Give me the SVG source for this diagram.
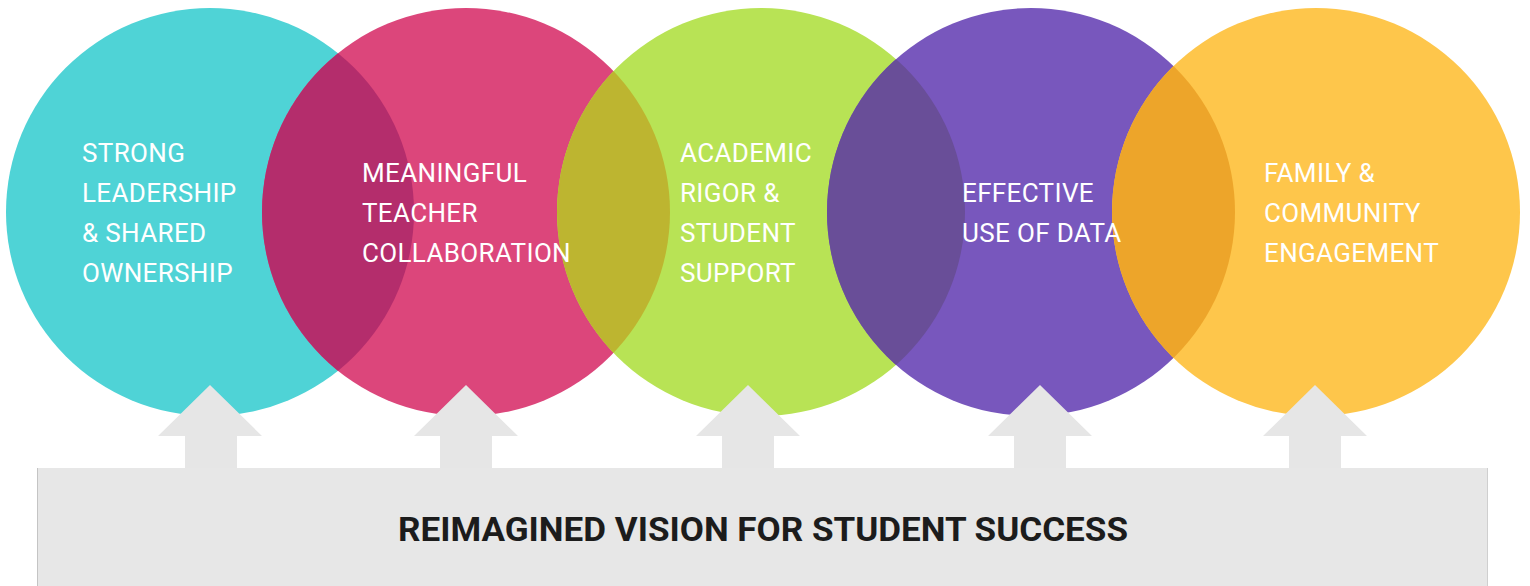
<svg xmlns="http://www.w3.org/2000/svg" width="1530" height="586" viewBox="0 0 1530 586">
  <style>
    .lbl { font-family: Roboto, "Liberation Sans", sans-serif; font-size: 26px; letter-spacing: 0.35px; fill: #ffffff; }
    .title { font-family: Roboto, "Liberation Sans", sans-serif; font-size: 34px; font-weight: bold; fill: #1c1c1c; }
    .arrow { fill: #e6e6e6; }
  </style>
  <defs>
    <clipPath id="c1"><circle cx="210" cy="212" r="204"/></clipPath>
    <clipPath id="c2"><circle cx="466" cy="212" r="204"/></clipPath>
    <clipPath id="c3"><circle cx="761" cy="212" r="204"/></clipPath>
    <clipPath id="c4"><circle cx="1031" cy="212" r="204"/></clipPath>
  </defs>
  <rect width="1530" height="586" fill="#ffffff"/>

  <g id="node-leadership"><circle cx="210" cy="212" r="204" fill="#4fd3d6"/></g>
  <g id="node-collaboration"><circle cx="466" cy="212" r="204" fill="#dc467b"/></g>
  <g id="node-rigor"><circle cx="761" cy="212" r="204" fill="#b8e355"/></g>
  <g id="node-data"><circle cx="1031" cy="212" r="204" fill="#7857bd"/></g>
  <g id="node-family"><circle cx="1316" cy="212" r="204" fill="#fec64b"/></g>

  <g id="overlaps">
    <circle cx="466" cy="212" r="204" fill="#b42d6c" clip-path="url(#c1)"/>
    <circle cx="761" cy="212" r="204" fill="#bdb530" clip-path="url(#c2)"/>
    <circle cx="1031" cy="212" r="204" fill="#694e98" clip-path="url(#c3)"/>
    <circle cx="1316" cy="212" r="204" fill="#eda52a" clip-path="url(#c4)"/>
  </g>

  <g id="label-leadership" class="lbl">
    <text x="82" y="162">STRONG</text>
    <text x="82" y="202">LEADERSHIP</text>
    <text x="82" y="242">&amp; SHARED</text>
    <text x="82" y="282">OWNERSHIP</text>
  </g>
  <g id="label-collaboration" class="lbl">
    <text x="362" y="182">MEANINGFUL</text>
    <text x="362" y="222">TEACHER</text>
    <text x="362" y="262">COLLABORATION</text>
  </g>
  <g id="label-rigor" class="lbl">
    <text x="680" y="162">ACADEMIC</text>
    <text x="680" y="202">RIGOR &amp;</text>
    <text x="680" y="242">STUDENT</text>
    <text x="680" y="282">SUPPORT</text>
  </g>
  <g id="label-data" class="lbl">
    <text x="962" y="202">EFFECTIVE</text>
    <text x="962" y="242">USE OF DATA</text>
  </g>
  <g id="label-family" class="lbl">
    <text x="1264" y="182">FAMILY &amp;</text>
    <text x="1264" y="222">COMMUNITY</text>
    <text x="1264" y="262">ENGAGEMENT</text>
  </g>

  <g id="connectors" class="arrow">
    <polygon points="210,385 262,436 237,436 237,470 185,470 185,436 158,436"/>
    <polygon points="466,385 518,436 492,436 492,470 440,470 440,436 414,436"/>
    <polygon points="748,385 800,436 774,436 774,470 722,470 722,436 696,436"/>
    <polygon points="1040,385 1092,436 1066,436 1066,470 1014,470 1014,436 988,436"/>
    <polygon points="1315,385 1367,436 1341,436 1341,470 1289,470 1289,436 1263,436"/>
  </g>

  <g id="node-vision">
    <rect x="37" y="468" width="1451" height="118" fill="#e7e7e7"/>
    <line x1="37.5" y1="468" x2="37.5" y2="586" stroke="#c4c4c4" stroke-width="1"/>
    <line x1="1487.5" y1="468" x2="1487.5" y2="586" stroke="#cfcfcf" stroke-width="1"/>
    <text class="title" x="398" y="541" textLength="730" lengthAdjust="spacingAndGlyphs">REIMAGINED VISION FOR STUDENT SUCCESS</text>
  </g>
</svg>
